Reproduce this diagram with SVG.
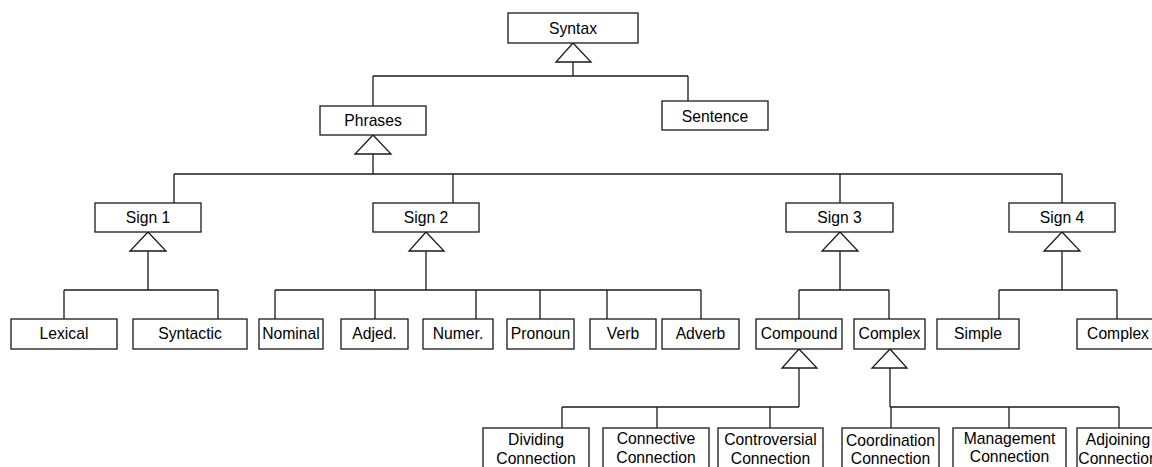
<svg xmlns="http://www.w3.org/2000/svg" width="1152" height="467" viewBox="0 0 1152 467">
<style>
.b{fill:#fff;stroke:#1a1a1a;stroke-width:1.3}
.t{font-family:"Liberation Sans",Arial,sans-serif;font-size:15.7px;fill:#000;text-anchor:middle}
.c line,.c polyline{stroke:#1a1a1a;stroke-width:1.3;fill:none}
.c polygon{fill:#fff;stroke:#1a1a1a;stroke-width:1.3}
</style>
<rect width="1152" height="467" fill="#fff"/>
<g class="c" id="connectors">
<line x1="573" y1="62" x2="573" y2="76"/>
<line x1="373" y1="76" x2="688" y2="76"/>
<line x1="373" y1="76" x2="373" y2="106"/>
<line x1="688" y1="76" x2="688" y2="101"/>
<polygon points="573,43 556,62 591,62"/>
<line x1="373" y1="154" x2="373" y2="174"/>
<line x1="174" y1="174" x2="1062" y2="174"/>
<line x1="174" y1="174" x2="174" y2="203"/>
<line x1="453" y1="174" x2="453" y2="203"/>
<line x1="840" y1="174" x2="840" y2="203"/>
<line x1="1062" y1="174" x2="1062" y2="203"/>
<polygon points="373,135 355,154 391,154"/>
<line x1="148" y1="251" x2="148" y2="290"/>
<line x1="64" y1="290" x2="218" y2="290"/>
<line x1="64" y1="290" x2="64" y2="319"/>
<line x1="218" y1="290" x2="218" y2="319"/>
<polygon points="148,232 130,251 166,251"/>
<line x1="426" y1="251" x2="426" y2="290"/>
<line x1="275" y1="290" x2="701" y2="290"/>
<line x1="275" y1="290" x2="275" y2="319"/>
<line x1="375" y1="290" x2="375" y2="319"/>
<line x1="476" y1="290" x2="476" y2="319"/>
<line x1="540" y1="290" x2="540" y2="319"/>
<line x1="607" y1="290" x2="607" y2="319"/>
<line x1="701" y1="290" x2="701" y2="319"/>
<polygon points="426,232 409,251 444,251"/>
<line x1="840" y1="251" x2="840" y2="290"/>
<line x1="799" y1="290" x2="889" y2="290"/>
<line x1="799" y1="290" x2="799" y2="319"/>
<line x1="889" y1="290" x2="889" y2="319"/>
<polygon points="840,232 822,251 858,251"/>
<line x1="1062" y1="251" x2="1062" y2="290"/>
<line x1="999" y1="290" x2="1117" y2="290"/>
<line x1="999" y1="290" x2="999" y2="319"/>
<line x1="1117" y1="290" x2="1117" y2="319"/>
<polygon points="1062,232 1044,251 1080,251"/>
<line x1="799" y1="368" x2="799" y2="407"/>
<line x1="562" y1="407" x2="799" y2="407"/>
<line x1="562" y1="407" x2="562" y2="428"/>
<line x1="657" y1="407" x2="657" y2="428"/>
<line x1="770" y1="407" x2="770" y2="428"/>
<polygon points="799,349 782,368 817,368"/>
<line x1="890" y1="368" x2="890" y2="407"/>
<line x1="890" y1="407" x2="1119" y2="407"/>
<line x1="891" y1="407" x2="891" y2="428"/>
<line x1="1009" y1="407" x2="1009" y2="428"/>
<line x1="1119" y1="407" x2="1119" y2="428"/>
<polygon points="890,349 872,368 907,368"/>
</g>
<g id="syntax"><rect class="b" x="508" y="13" width="130" height="30"/><text class="t" x="573" y="33.5">Syntax</text></g>
<g id="sentence"><rect class="b" x="662" y="101" width="106" height="29"/><text class="t" x="715" y="121.5">Sentence</text></g>
<g id="phrases"><rect class="b" x="320" y="106" width="106" height="29"/><text class="t" x="373" y="125.5">Phrases</text></g>
<g id="sign1"><rect class="b" x="95" y="203" width="106" height="29"/><text class="t" x="148" y="223">Sign 1</text></g>
<g id="sign2"><rect class="b" x="373" y="203" width="106" height="29"/><text class="t" x="426" y="223">Sign 2</text></g>
<g id="sign3"><rect class="b" x="786" y="203" width="107" height="29"/><text class="t" x="839.5" y="223">Sign 3</text></g>
<g id="sign4"><rect class="b" x="1009" y="203" width="106" height="29"/><text class="t" x="1062" y="223">Sign 4</text></g>
<g id="lexical"><rect class="b" x="11" y="319" width="106" height="30"/><text class="t" x="64" y="338.5">Lexical</text></g>
<g id="syntactic"><rect class="b" x="133" y="319" width="114" height="30"/><text class="t" x="190" y="338.5">Syntactic</text></g>
<g id="nominal"><rect class="b" x="259" y="319" width="64" height="30"/><text class="t" x="291" y="338.5">Nominal</text></g>
<g id="adjed"><rect class="b" x="341" y="319" width="67" height="30"/><text class="t" x="374.5" y="338.5">Adjed.</text></g>
<g id="numer"><rect class="b" x="423" y="319" width="70" height="30"/><text class="t" x="458" y="338.5">Numer.</text></g>
<g id="pronoun"><rect class="b" x="507" y="319" width="67" height="30"/><text class="t" x="540.5" y="338.5">Pronoun</text></g>
<g id="verb"><rect class="b" x="590" y="319" width="66" height="30"/><text class="t" x="623" y="338.5">Verb</text></g>
<g id="adverb"><rect class="b" x="662" y="319" width="77" height="30"/><text class="t" x="700.5" y="338.5">Adverb</text></g>
<g id="compound"><rect class="b" x="756" y="319" width="86" height="30"/><text class="t" x="799" y="338.5">Compound</text></g>
<g id="complex"><rect class="b" x="854" y="319" width="71" height="30"/><text class="t" x="889.5" y="338.5">Complex</text></g>
<g id="simple"><rect class="b" x="937" y="319" width="82" height="30"/><text class="t" x="978" y="338.5">Simple</text></g>
<g id="complex2"><rect class="b" x="1077" y="319" width="82" height="30"/><text class="t" x="1118" y="338.5">Complex</text></g>
<g id="dividing"><rect class="b" x="483" y="428" width="106" height="50"/><text class="t" x="536" y="445">Dividing</text><text class="t" x="536" y="463.5">Connection</text></g>
<g id="connective"><rect class="b" x="603" y="428" width="106" height="50"/><text class="t" x="656" y="444">Connective</text><text class="t" x="656" y="462.5">Connection</text></g>
<g id="controversial"><rect class="b" x="718" y="428" width="105" height="50"/><text class="t" x="770.5" y="445">Controversial</text><text class="t" x="770.5" y="463.5">Connection</text></g>
<g id="coordination"><rect class="b" x="842" y="428" width="97" height="50"/><text class="t" x="890.5" y="445.5">Coordination</text><text class="t" x="890.5" y="463.5">Connection</text></g>
<g id="management"><rect class="b" x="953" y="428" width="113" height="50"/><text class="t" x="1009.5" y="443.5">Management</text><text class="t" x="1009.5" y="462">Connection</text></g>
<g id="adjoining"><rect class="b" x="1077" y="428" width="82" height="50"/><text class="t" x="1118" y="445">Adjoining</text><text class="t" x="1118" y="463.5">Connection</text></g>
</svg>
